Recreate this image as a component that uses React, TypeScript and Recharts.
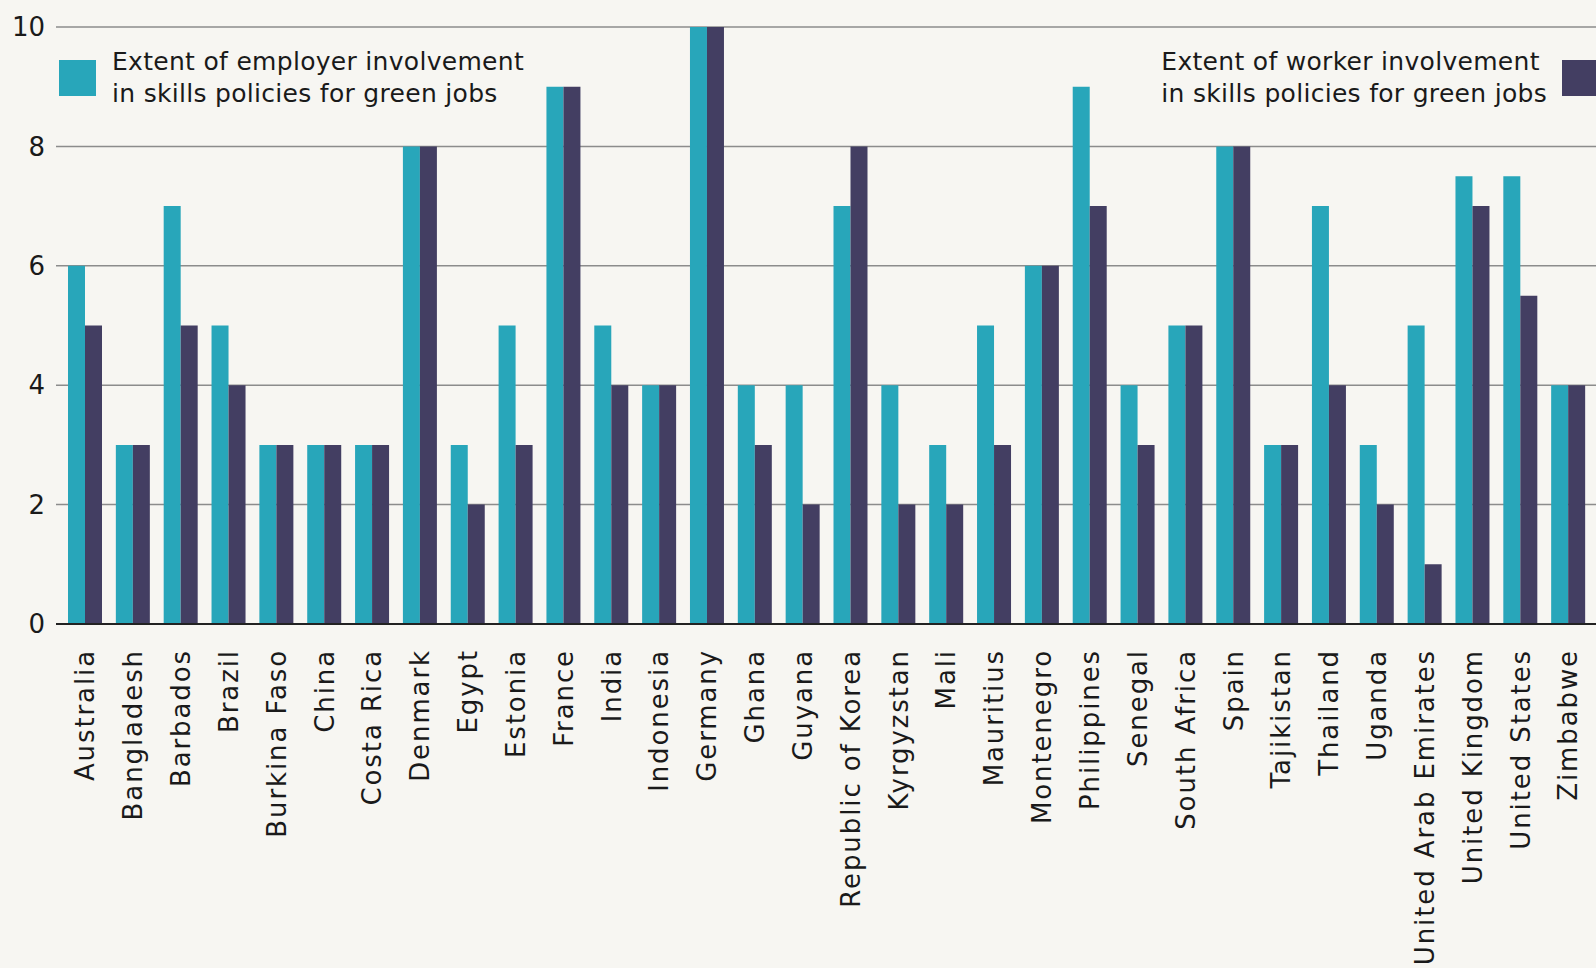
import React from 'react';
import { BarChart, Bar, XAxis, YAxis, CartesianGrid } from 'recharts';

const countries = [
  'Australia', 'Bangladesh', 'Barbados', 'Brazil', 'Burkina Faso', 'China', 'Costa Rica',
  'Denmark', 'Egypt', 'Estonia', 'France', 'India', 'Indonesia', 'Germany', 'Ghana', 'Guyana',
  'Republic of Korea', 'Kyrgyzstan', 'Mali', 'Mauritius', 'Montenegro', 'Philippines',
  'Senegal', 'South Africa', 'Spain', 'Tajikistan', 'Thailand', 'Uganda',
  'United Arab Emirates', 'United Kingdom', 'United States', 'Zimbabwe',
];
const employer = [6, 3, 7, 5, 3, 3, 3, 8, 3, 5, 9, 5, 4, 10, 4, 4, 7, 4, 3, 5, 6, 9, 4, 5, 8, 3, 7, 3, 5, 7.5, 7.5, 4];
const worker = [5, 3, 5, 4, 3, 3, 3, 8, 2, 3, 9, 4, 4, 10, 3, 2, 8, 2, 2, 3, 6, 7, 3, 5, 8, 3, 4, 2, 1, 7, 5.5, 4];
const yTicks = [0, 2, 4, 6, 8, 10];

const TEAL = '#28a6ba';
const DARK = '#433e62';
const FONT = '"DejaVu Sans", sans-serif';

const data = countries.map((name, i) => ({ name, employer: employer[i], worker: worker[i] }));

// rotated country names, reading bottom to top
const CountryTick = ({ x, y, payload }: any) => (
  <text
    x={x}
    y={y + 17}
    transform={`rotate(-90, ${x}, ${y + 17})`}
    textAnchor="end"
    dy="0.36em"
    fill="#1a1a1a"
    fontSize={26}
    letterSpacing={1.9}
    fontFamily={FONT}
  >
    {payload.value}
  </text>
);

const legendText: React.CSSProperties = {
  position: 'absolute',
  top: 46,
  fontFamily: FONT,
  fontSize: 25,
  letterSpacing: 0.3,
  lineHeight: '31.5px',
  color: '#1a1a1a',
  whiteSpace: 'nowrap',
};

export default function App() {
  return (
    <div style={{ position: 'fixed', left: 0, top: 0, width: 1596, height: 968, background: '#f7f6f2', overflow: 'hidden' }}>
      <BarChart
        width={1596}
        height={968}
        data={data}
        margin={{ top: 27, right: 0, left: 0, bottom: 0 }}
        barCategoryGap={7}
        barGap={0}
      >
        <CartesianGrid vertical={false} stroke="#8c8c8c" strokeWidth={1.5} />
        <XAxis
          dataKey="name"
          interval={0}
          height={344}
          tick={<CountryTick />}
          tickLine={false}
          axisLine={{ stroke: '#222', strokeWidth: 2 }}
          padding={{ left: 5, right: 4 }}
        />
        <YAxis
          domain={[0, 10]}
          ticks={yTicks}
          width={56}
          axisLine={false}
          tickLine={false}
          tickSize={6}
          tickMargin={5}
          tick={{ fill: '#1a1a1a', fontSize: 26, fontFamily: FONT }}
        />
        <Bar dataKey="employer" fill={TEAL} isAnimationActive={false} />
        <Bar dataKey="worker" fill={DARK} isAnimationActive={false} />
      </BarChart>

      {/* legends sit on top of the plot, as in the source */}
      <div style={{ position: 'absolute', left: 59, top: 60, width: 37, height: 36, background: TEAL }} />
      <div style={{ ...legendText, left: 112 }}>
        Extent of employer involvement<br />in skills policies for green jobs
      </div>
      <div style={{ ...legendText, right: 49 }}>
        Extent of worker involvement<br />in skills policies for green jobs
      </div>
      <div style={{ position: 'absolute', left: 1562, top: 60, width: 34, height: 36, background: DARK }} />
    </div>
  );
}
